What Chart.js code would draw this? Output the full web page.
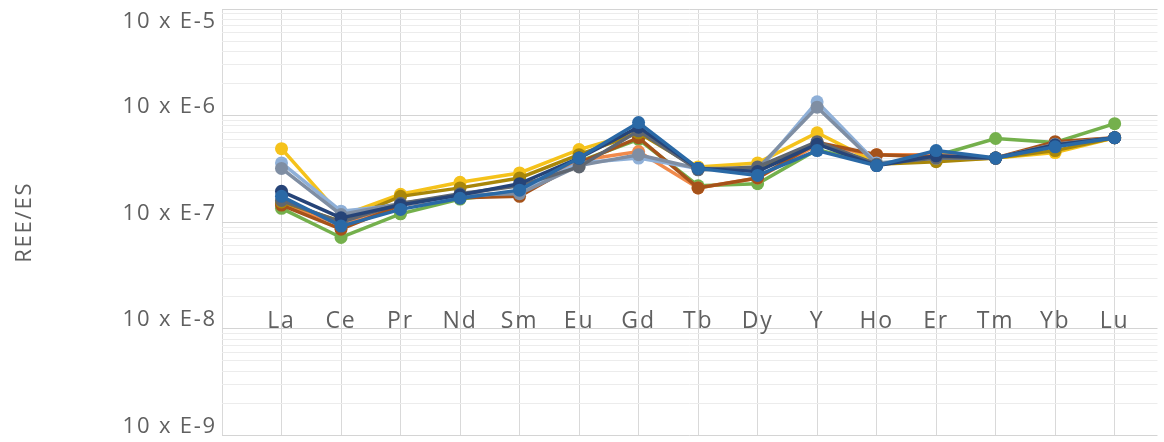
<!DOCTYPE html>
<html>
<head>
<meta charset="utf-8">
<script src="https://cdn.jsdelivr.net/npm/chart.js@4.4.1/dist/chart.umd.min.js"></script>
<style>
  html, body { margin: 0; padding: 0; background: #fff; }
  #wrap { width: 1164px; height: 442px; }
</style>
</head>
<body>
<div id="wrap"><canvas id="reeChart"></canvas></div>
<script>
// Rare earth elements (x axis)
const elements = ['La', 'Ce', 'Pr', 'Nd', 'Sm', 'Eu', 'Gd', 'Tb', 'Dy', 'Y', 'Ho', 'Er', 'Tm', 'Yb', 'Lu'];

// Log axis decades and their labels
const decades = [1e-9, 1e-8, 1e-7, 1e-6, 1e-5];
const decadeLabels = ['10 x E-9', '10 x E-8', '10 x E-7', '10 x E-6', '10 x E-5'];

// Normalised values (REE/ES)
const blue      = [1.75e-7, 9.2e-8, 1.32e-7, 1.68e-7, 2.0e-7, 4.0e-7, 8.6e-7, 3.2e-7, 2.75e-7, 4.7e-7, 3.4e-7, 4.7e-7, 4.0e-7, 5.1e-7, 6.2e-7];
const darkBlue  = [1.95e-7, 1.1e-7, 1.45e-7, 1.8e-7, 2.3e-7, 4.0e-7, 7.8e-7, 3.2e-7, 3.0e-7, 5.4e-7, 3.4e-7, 4.2e-7, 4.0e-7, 5.3e-7, 6.2e-7];
const darkGray  = [1.6e-7, 1.0e-7, 1.5e-7, 1.85e-7, 2.2e-7, 3.3e-7, 7.2e-7, 3.1e-7, 3.3e-7, 5.7e-7, 3.5e-7, 4.0e-7, 4.0e-7, 5.3e-7, 6.2e-7];
const grayBlue  = [3.2e-7, 1.18e-7, 1.5e-7, 1.8e-7, 1.85e-7, 3.4e-7, 4.3e-7, 3.2e-7, 3.2e-7, 1.2e-6, 3.5e-7, 4.1e-7, 4.0e-7, 5.4e-7, 6.2e-7];
const lightBlue = [3.6e-7, 1.27e-7, 1.45e-7, 1.75e-7, 1.9e-7, 3.6e-7, 4.0e-7, 3.2e-7, 3.0e-7, 1.35e-6, 3.6e-7, 4.0e-7, 4.0e-7, 5.3e-7, 6.2e-7];
const olive     = [1.55e-7, 1.02e-7, 1.75e-7, 2.1e-7, 2.6e-7, 4.3e-7, 6.9e-7, 3.2e-7, 3.1e-7, 5.5e-7, 3.5e-7, 3.7e-7, 4.0e-7, 4.7e-7, 6.2e-7];
const brown     = [1.45e-7, 8.6e-8, 1.45e-7, 1.7e-7, 1.75e-7, 3.6e-7, 6.2e-7, 2.1e-7, 2.6e-7, 5.6e-7, 4.3e-7, 4.1e-7, 4.0e-7, 5.7e-7, 6.2e-7];
const orange    = [1.5e-7, 9.5e-8, 1.5e-7, 1.75e-7, 1.9e-7, 3.8e-7, 4.6e-7, 2.1e-7, 2.6e-7, 5.3e-7, 4.3e-7, 4.3e-7, 4.0e-7, 5.4e-7, 6.2e-7];
const yellow    = [4.9e-7, 1.15e-7, 1.83e-7, 2.37e-7, 2.9e-7, 4.8e-7, 7.0e-7, 3.3e-7, 3.6e-7, 6.9e-7, 3.6e-7, 3.8e-7, 4.0e-7, 4.5e-7, 6.2e-7];
const green     = [1.35e-7, 7.2e-8, 1.2e-7, 1.65e-7, 1.9e-7, 3.7e-7, 6.0e-7, 2.2e-7, 2.3e-7, 4.8e-7, 3.5e-7, 4.2e-7, 6.1e-7, 5.6e-7, 8.4e-7];

// first one is drawn on top
const series = [
    { values: blue,      color: '#2a69a6' },
    { values: darkBlue,  color: '#264478' },
    { values: darkGray,  color: '#5f6670' },
    { values: grayBlue,  color: '#7f8ea3' },
    { values: lightBlue, color: '#8fb0d8' },
    { values: olive,     color: '#a8860a' },
    { values: brown,     color: '#a5521a' },
    { values: orange,    color: '#f08a4b' },
    { values: yellow,    color: '#f5c21b' },
    { values: green,     color: '#74b04c' }
];

const textColor = '#606060';
const fontFamily = '"Open Sans", sans-serif';

function isDecade(v) {
    const e = Math.log10(v);
    return Math.abs(e - Math.round(e)) < 1e-6;
}

// the reference text is set rather loose, widen it a bit
const spacingPlugin = {
    id: 'spacing',
    beforeUpdate: chart => { chart.ctx.letterSpacing = '1.8px'; },
    beforeDraw: chart => { chart.ctx.letterSpacing = '1.8px'; }
};

const reeChart = new Chart(document.getElementById('reeChart'), {
    type: 'line',
    plugins: [spacingPlugin],
    data: {
        datasets: series.map(s => ({
            data: s.values.map((v, i) => ({ x: i + 1, y: v })),
            borderColor: s.color,
            backgroundColor: s.color,
            borderWidth: 3.5,
            pointRadius: 6.5,
            pointBorderWidth: 0,
            pointHoverRadius: 6.5,
            tension: 0
        }))
    },
    options: {
        responsive: true,
        maintainAspectRatio: false,
        animation: false,
        layout: { padding: { top: 9, bottom: 4, left: 0, right: 0 } },
        plugins: {
            legend: { display: false },
            tooltip: { enabled: false }
        },
        scales: {
            x: {
                type: 'linear',
                min: 0,
                max: 15.72,
                position: { y: 1e-8 },
                afterBuildTicks: scale => {
                    scale.ticks = elements.map((e, i) => ({ value: i })).concat([{ value: elements.length }]);
                },
                afterFit: scale => {
                    scale.paddingLeft = 0;
                    scale.paddingRight = 0;
                },
                ticks: {
                    autoSkip: false,
                    maxRotation: 0,
                    padding: -21,
                    color: textColor,
                    font: { family: fontFamily, size: 23 },
                    callback: v => elements[v - 1] || ''
                },
                grid: { color: '#d9d9d9', drawTicks: false },
                border: { display: false }
            },
            y: {
                type: 'logarithmic',
                min: 1e-9,
                max: 1e-5,
                afterBuildTicks: scale => {
                    const ticks = [];
                    decades.slice(0, -1).forEach(d => {
                        for (let m = 1; m <= 9; m++) ticks.push({ value: m * d });
                    });
                    ticks.push({ value: decades[decades.length - 1] });
                    scale.ticks = ticks;
                },
                afterFit: scale => {
                    scale.width = 222;
                    scale.paddingTop = 0;
                    scale.paddingBottom = 0;
                },
                title: {
                    display: true,
                    text: 'REE/ES',
                    color: textColor,
                    font: { family: fontFamily, size: 22 },
                    padding: { top: 12, bottom: 0 }
                },
                ticks: {
                    autoSkip: false,
                    padding: 5,
                    labelOffset: -9,
                    color: textColor,
                    // top label is pushed down inside the chart, like Excel does
                    font: ctx => ({
                        family: fontFamily,
                        size: 22,
                        lineHeight: ctx.index === 36 ? 1.0 : 1.2
                    }),
                    callback: v => {
                        if (!isDecade(v)) return '';
                        const idx = decades.findIndex(d => Math.abs(d - v) / d < 1e-6);
                        if (idx === decades.length - 1) return ['', '', decadeLabels[idx]];
                        return decadeLabels[idx];
                    }
                },
                grid: {
                    drawTicks: false,
                    color: ctx => isDecade(ctx.tick.value) ? '#d4d4d4' : '#ececec'
                },
                border: { display: false }
            }
        }
    }
});
</script>
</body>
</html>
